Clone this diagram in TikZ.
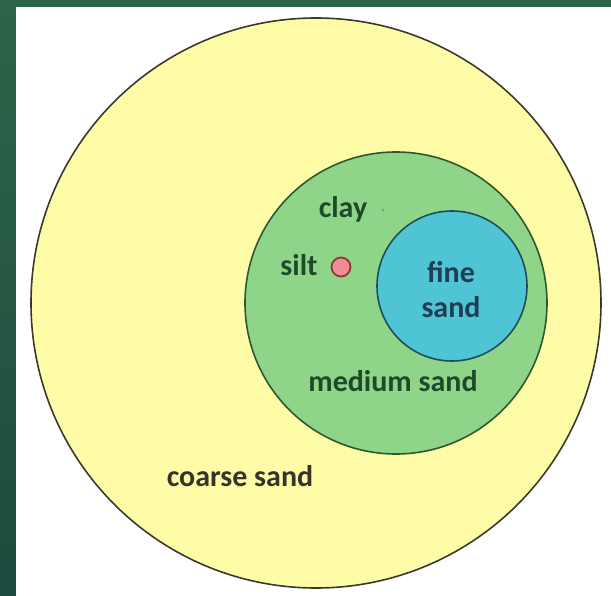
\documentclass[tikz,border=0pt]{standalone}
\usepackage{fontspec}
\setmainfont{Carlito}
\usepackage{tikz}
\usetikzlibrary{positioning}
\definecolor{slidegreenA}{HTML}{2E6449}
\definecolor{slidegreenB}{HTML}{1D4A3E}
\definecolor{coarsefill}{HTML}{FFFCA8}
\definecolor{coarseline}{HTML}{3A3A2C}
\definecolor{mediumfill}{HTML}{8ED58A}
\definecolor{mediumline}{HTML}{2C5A2E}
\definecolor{finefill}{HTML}{4EC4D4}
\definecolor{fineline}{HTML}{1E4E56}
\definecolor{siltfill}{HTML}{F28C94}
\definecolor{siltline}{HTML}{8A3A36}
\definecolor{labelgreen}{HTML}{1E4A2A}
\definecolor{labelblue}{HTML}{1E3E54}
\definecolor{labeldark}{HTML}{34342A}

\begin{document}
\begin{tikzpicture}[x=1pt, y=-1pt,
  ring/.style={circle, draw, line width=1.6pt, inner sep=0pt},
  lbl/.style={font=\fontsize{30}{32}\selectfont\bfseries, inner sep=0pt, anchor=base}]

\useasboundingbox (0,0) rectangle (611,596);
\shade[top color=slidegreenA, bottom color=slidegreenB] (0,0) rectangle (611,596);
\fill[white] (16,7) rectangle (611,596);

% nested circles
\node[ring, draw=coarseline, fill=coarsefill, minimum size=570pt] (coarse) at (316,303) {};
\node[ring, draw=mediumline, fill=mediumfill, minimum size=302pt] (medium) at (396,303) {};
\node[ring, draw=fineline, fill=finefill, minimum size=150pt] (fine) at (452,286) {};
\node[ring, draw=siltline, fill=siltfill, line width=1.8pt, minimum size=19pt] (silt) at (341,267) {};
\node[circle, fill=mediumline!60, inner sep=0pt, minimum size=3pt] (clay) at (383,210) {};

% labels
\node[lbl, text=labelgreen] (claylbl) at (343,218) {clay};
\node[lbl, text=labelgreen] (siltlbl) at (299,276) {silt};
\node[lbl, text=labelblue] (finelbl) at (451,283) {fine};
\node[lbl, text=labelblue] (sandlbl) at (451,318) {sand};
\node[lbl, text=labelgreen] (mediumlbl) at (393,391) {medium sand};
\node[lbl, text=labeldark] (coarselbl) at (240,486) {coarse sand};
\end{tikzpicture}
\end{document}
